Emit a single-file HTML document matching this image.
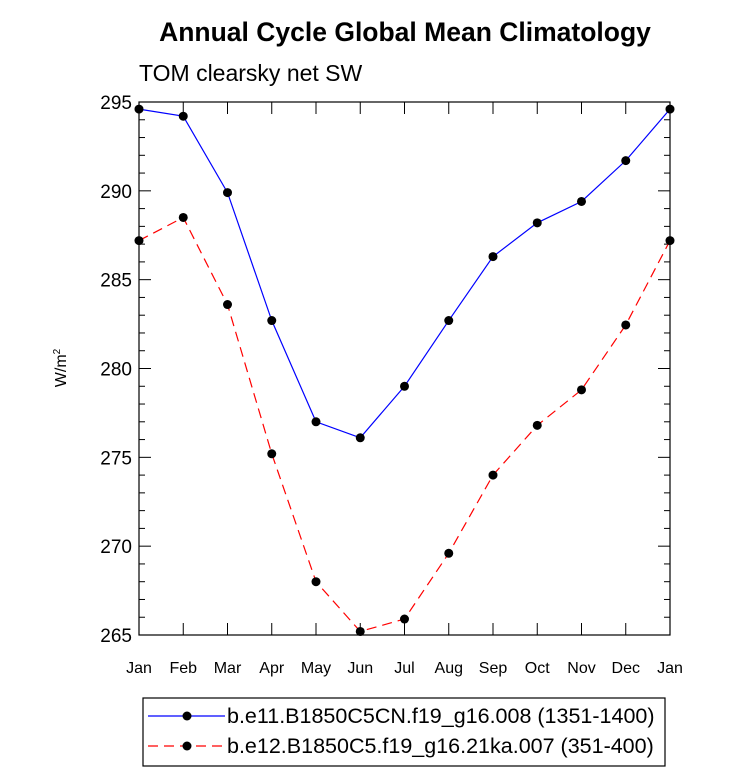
<!DOCTYPE html>
<html><head><meta charset="utf-8"><style>
body{margin:0;background:#fff;}
svg{display:block;font-family:"Liberation Sans",sans-serif;}
</style></head><body>
<svg id="chart" width="733" height="773">
<text x="405" y="41" text-anchor="middle" font-size="26.5" font-weight="bold">Annual Cycle Global Mean Climatology</text>
<text x="139" y="81" font-size="23">TOM clearsky net SW</text>
<g id="axes"></g>
<g id="series"></g>
<g>
<rect x="143" y="698" width="522" height="68" fill="none" stroke="#000" stroke-width="1.2"/>
<g>
<line x1="148" y1="716" x2="225" y2="716" stroke="#00f" stroke-width="1.2"/>
<circle cx="187" cy="716" r="4.5"/>
<text x="227" y="723" font-size="21.5">b.e11.B1850C5CN.f19_g16.008 (1351-1400)</text></g>
<g>
<line x1="148" y1="746" x2="225" y2="746" stroke="#f00" stroke-width="1.2" stroke-dasharray="10,6"/>
<circle cx="187" cy="746" r="4.5"/>
<text x="227" y="753" font-size="21.5">b.e12.B1850C5.f19_g16.21ka.007 (351-400)</text></g>
</g>
</svg>
<script>
const months=["Jan","Feb","Mar","Apr","May","Jun","Jul","Aug","Sep","Oct","Nov","Dec","Jan"];
const blueVals=[294.6,294.2,289.9,282.7,277.0,276.1,279.0,282.7,286.3,288.2,289.4,291.7,294.6];
const redVals=[287.2,288.5,283.6,275.2,268.0,265.2,265.9,269.6,274.0,276.8,278.8,282.45,287.2];
const yTicks=[265,270,275,280,285,290,295];
const L=139,R=670,T=102,B=635,ymin=265,ymax=295;
const xs=i=>L+(R-L)*i/(months.length-1);
const ys=v=>B-(v-ymin)/(ymax-ymin)*(B-T);
const NS="http://www.w3.org/2000/svg";
function mk(t,a,p){const e=document.createElementNS(NS,t);for(const k in a)e.setAttribute(k,a[k]);p.appendChild(e);return e;}
const ax=document.getElementById('axes');
const fr=mk('rect',{x:L,y:T,width:R-L,height:B-T,fill:'none',stroke:'#000','stroke-width':1.2},ax);


for(let v=ymin;v<=ymax;v++){const y=ys(v);const len=(v%5===0)?12:6;
mk('line',{x1:L,y1:y,x2:L+len,y2:y,stroke:'#000'},ax);mk('line',{x1:R,y1:y,x2:R-len,y2:y,stroke:'#000'},ax);}
yTicks.forEach(v=>{const t=mk('text',{x:L-7,y:ys(v)+7,'text-anchor':'end','font-size':19},ax);t.textContent=v;

});
months.forEach((m,i)=>{const x=xs(i);
mk('line',{x1:x,y1:B,x2:x,y2:B-12,stroke:'#000'},ax);mk('line',{x1:x,y1:T,x2:x,y2:T+12,stroke:'#000'},ax);
const t=mk('text',{x:x,y:B+38,'text-anchor':'middle','font-size':16},ax);t.textContent=m;

});
const yt=mk('text',{transform:'translate(66,368) rotate(-90)','text-anchor':'middle','font-size':16},ax);
yt.innerHTML='W/m<tspan dy="-6" font-size="10">2</tspan>';


const sg=document.getElementById('series');
function series(vals,color,dash,name){
const p=mk('polyline',{points:vals.map((v,i)=>xs(i)+','+ys(v)).join(' '),fill:'none',stroke:color,'stroke-width':1.2,'stroke-dasharray':dash},sg);


vals.forEach((v,i)=>{const c=mk('circle',{cx:xs(i),cy:ys(v),r:4.5,fill:'#000'},sg);

});}
series(blueVals,'#00f','none','blue-series');
series(redVals,'#f00','10,6','red-series');
</script>
</body></html>
